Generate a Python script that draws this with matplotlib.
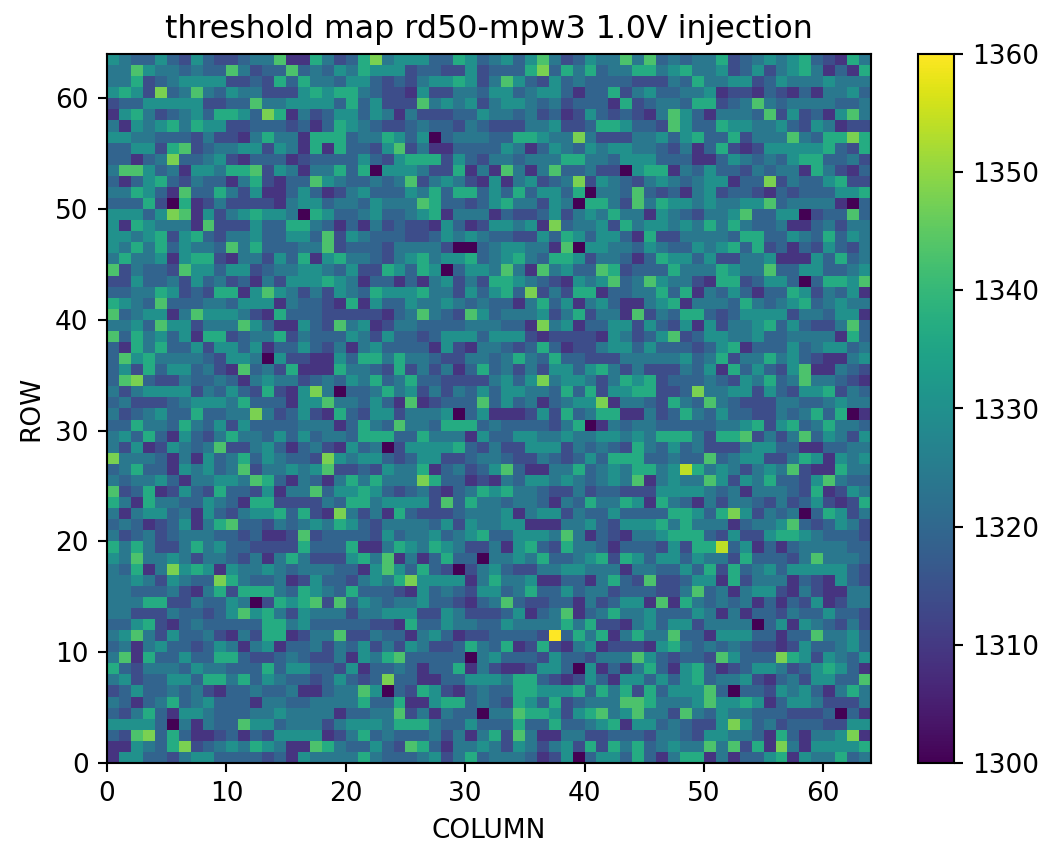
import numpy as np
import matplotlib
matplotlib.use('Agg')
import matplotlib.pyplot as plt

# threshold per pixel, one character per cell, binned in 11 levels
levels = {'0': 1300, '1': 1309, '2': 1314, '3': 1319, '4': 1324, '5': 1330,
          '6': 1337, '7': 1343, '8': 1348, '9': 1354, 'a': 1360}

# top row of the matrix first (ROW 63 down to ROW 0)
rows = [
    "54335325 32234471 16423684 55533653 45357423 54474734 34462345 45632164",
    "44754434 33742337 34354655 52332252 33368364 63446645 64452352 45641316",
    "44623455 55223263 64435532 32455652 47532534 33332224 36445523 54445444",
    "56528347 43544222 56566432 21522443 55345531 33624533 44512213 21314453",
    "23355555 22337445 55536352 22745452 45543423 33162344 36623474 34444334",
    "15642345 36653861 42355354 14222335 44342312 53232147 53144437 25231574",
    "41545646 55223332 31365432 23433243 22244522 36653327 53365544 53254122",
    "55443332 42214644 16663446 53503444 33665448 42224453 56336244 47436686",
    "33552672 34455254 16163325 72411333 35413543 54554432 41362125 55556326",
    "33134833 45213331 23333532 56662532 44344466 44355533 31135434 35663342",
    "47753415 54667254 14463605 55422614 17414733 42205661 43533243 44164213",
    "31356324 33146213 37543343 47245421 51452348 25432454 34551338 24335622",
    "44653173 36425113 53124533 35463663 53635536 04437323 14523321 32333556",
    "33362061 24222214 55344354 44763323 56442540 66427465 54544557 34444103",
    "55535871 52456554 06533453 34561444 13223524 54644154 32445733 55023373",
    "51654441 72225336 64313142 32215312 55451834 45264554 54646433 41134244",
    "55456256 32445335 53725433 32235454 33225365 35531622 44443663 35436354",
    "54646354 43746333 44723332 44442003 45544170 55443543 35456362 31325324",
    "46445156 62144253 61564432 45645563 45643665 24431365 53522445 11153634",
    "72433275 53552344 55435226 53650355 47417453 37623336 44465447 33553345",
    "22533425 34231425 55654133 13145242 66543215 45734754 42166235 53036657",
    "33446523 26615754 24254365 55644253 56382426 61334463 61435313 36524351",
    "65437333 44355514 33216153 35445434 33146351 45311456 14443643 45634544",
    "73455147 55542163 33222221 34743275 34445246 24417243 66323555 52443551",
    "44537552 44475311 53274512 44333344 43318451 33552532 51524456 35322473",
    "73645351 66234462 43335425 33235553 55521222 21542357 23554453 34444163",
    "31646335 25535133 53241453 33315214 43236312 24553533 32356133 35345534",
    "37564444 32554052 21153664 64432244 34643633 22244444 53462446 45321145",
    "35263553 42173426 11164432 62424136 34242553 56424222 43516353 25711432",
    "37832243 34314544 23435463 46332222 45358455 42465623 33432546 34744321",
    "42455552 43532621 58403346 45242435 35544363 62556622 38445525 32556243",
    "34222345 55463331 55744353 17123337 35341345 58144326 43743222 44334544",
    "42345336 33448423 52163255 24445035 11125263 46611423 64353322 43463601",
    "33644364 35253333 44413643 74436663 43333246 01434433 33344562 56346443",
    "45363153 24644353 53443666 33644415 33554454 45545466 64266724 24735425",
    "42512543 47224531 34215340 25555632 42255524 34326435 34222455 33113344",
    "84443141 53463543 32854553 23552234 43224323 53666334 33734552 24651545",
    "34633154 53472445 45722325 44613423 57311446 34546645 96454245 47211644",
    "43445314 45547631 43146464 44863312 14355454 34547145 44752546 33257433",
    "72361253 26332514 47355653 23421346 56443224 23322255 55434144 43261254",
    "64164433 54316622 22436645 55527364 43443143 64465164 31424432 42352126",
    "41455341 53245563 62184241 63222344 45145524 33533336 65368524 34036524",
    "34312351 46733243 45465324 44435254 45511144 53255564 64441344 57323542",
    "42342344 43323112 72333325 34453456 33555474 13214456 66325225 66543332",
    "64642246 45332222 63336114 65465422 41563264 43133325 26693513 13444433",
    "54744542 44324146 42225647 14136330 44546334 56265355 35442633 32474443",
    "43614856 51544543 44433157 53632024 53224455 44414433 53626345 35555532",
    "44542543 38643341 25332454 68555514 64451133 14632722 35516244 41321532",
    "44333421 46266643 65436333 21534325 53463353 44233322 47341455 21421144",
    "44466224 33540265 67273543 44533213 47322331 42355171 64343413 13251244",
    "44222433 23575642 54442445 55225422 23513471 34644533 35414133 24335332",
    "33562134 33333664 53333322 16335443 35444464 62214535 52444403 51543242",
    "45742533 42142661 24472243 31453122 33332a36 46146447 33155533 13374453",
    "34145332 35414513 34243524 25422364 36126214 51222156 43434322 12533453",
    "47163353 36632234 32241546 73333304 53332533 24447532 33275333 86525435",
    "63244435 44333635 53325133 43133614 21125530 51314631 56312355 42356531",
    "45233553 66463543 32353238 33113355 54663212 53155353 56344521 34255337",
    "23533434 21334334 11344750 32652134 33665556 36462635 55730332 54531464",
    "43134634 53331443 34444633 61156634 32653623 44477644 45755651 35542224",
    "32463155 43334454 44413344 72414330 44766525 67457442 74354433 32223031",
    "55553041 43375534 44245554 66643353 33633633 45615534 32258534 23332255",
    "32783631 12313255 55124634 33342414 62741144 22333244 32554431 63144581",
    "11543682 34546541 17643353 27631445 42542452 62646345 44747261 84155556",
    "15533245 53333231 54444643 33452463 44431250 35536314 66141335 61544634",
]

thresholds = np.array([[levels[c] for c in r.replace(' ', '')] for r in rows])[::-1]

fig = plt.figure(figsize=(5.479, 4.437), dpi=190)
ax = fig.add_axes([107/1041, 80/843, 764/1041, 709/843])
cax = fig.add_axes([918/1041, 80/843, 36/1041, 709/843])

mesh = ax.pcolormesh(thresholds, cmap='viridis', vmin=1300, vmax=1360)
ax.set_title('threshold map rd50-mpw3 1.0V injection')
ax.set_xlabel('COLUMN')
ax.set_ylabel('ROW')
ax.set_xticks(np.arange(0, 61, 10))
ax.set_yticks(np.arange(0, 61, 10))
fig.colorbar(mesh, cax=cax)

fig.savefig('out.png')
